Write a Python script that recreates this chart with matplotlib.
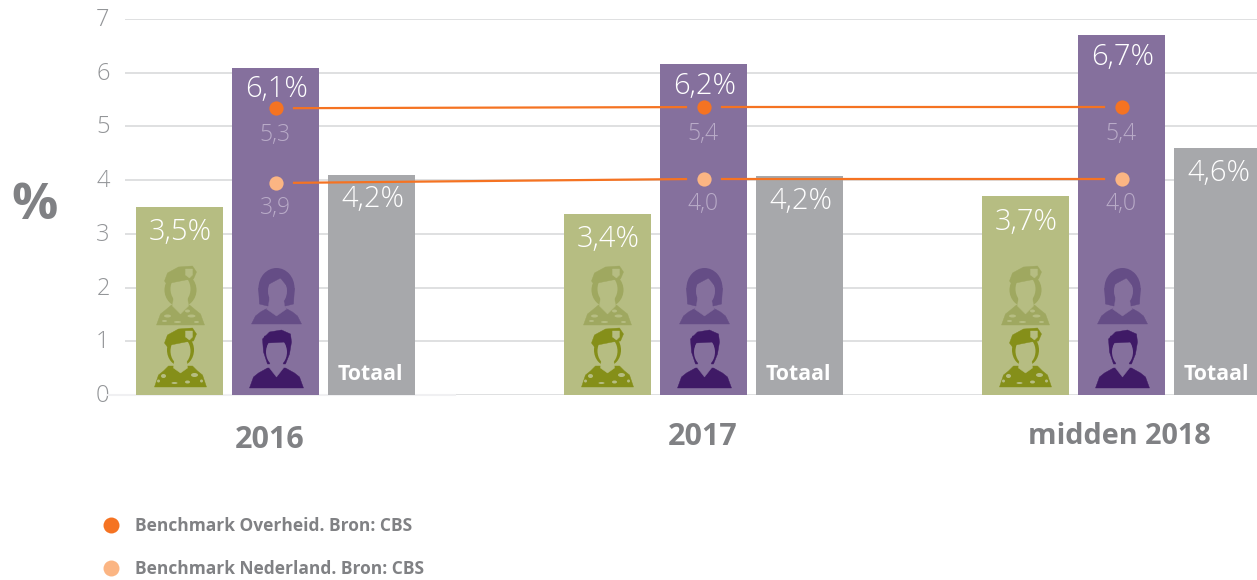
import matplotlib
matplotlib.use('Agg')
import matplotlib.pyplot as plt
from matplotlib.patches import Polygon, Ellipse
from matplotlib.lines import Line2D
from matplotlib.transforms import ScaledTranslation

W, H = 1257, 580
periods = ['2016', '2017', 'midden 2018']
militair = [3.5, 3.37, 3.7]
burger = [6.09, 6.16, 6.7]
totaal = [4.1, 4.08, 4.6]
lab_militair = ['3,5%', '3,4%', '3,7%']
lab_burger = ['6,1%', '6,2%', '6,7%']
lab_totaal = ['4,2%', '4,2%', '4,6%']
overheid = [5.34, 5.36, 5.36]
nederland = [3.95, 4.02, 4.02]
lab_overheid = ['5,3', '5,4', '5,4']
lab_nederland = ['3,9', '4,0', '4,0']
yticks = [0, 1, 2, 3, 4, 5, 6, 7]

# pixel layout
green_x = [136, 564, 982]
purple_x = [232, 660, 1078]
grey_x = [328, 756, 1174]
marker_x = [276, 704, 1122]
bar_w = 87
GREEN, PURPLE, GREY = '#b6bd82', '#85709d', '#a7a8ab'
ORANGE, PEACH = '#f57322', '#fbb583'
TXT = '#808184'
plt.rcParams['font.family'] = ['Open Sans', 'DejaVu Sans']

fig = plt.figure(figsize=(W/100, H/100), dpi=100)
ax = fig.add_axes([125/W, 1-395/H, 1-125/W, (395-19)/H])
ax.set_xlim(125, W)
ax.set_ylim(0, 7)
ax.patch.set_alpha(0)
for s in ax.spines.values():
    s.set_visible(False)
ax.set_xticks([])
ax.set_yticks(yticks)
ax.set_yticklabels([str(v) for v in yticks], fontsize=17, color='#939598', fontweight='light')
ax.tick_params(axis='y', length=0, pad=11)
shift = ScaledTranslation(0, 2/100, fig.dpi_scale_trans)
for lbl in ax.get_yticklabels():
    lbl.set_transform(lbl.get_transform() + shift)
ax.grid(axis='y', color='#d6d7d9', lw=1.1, zorder=0)
ax.set_axisbelow(True)
ax.plot([108, 455], [0, 0], color='#f0f0f2', lw=1.5, clip_on=False, zorder=1)

for i in range(3):
    ax.bar(green_x[i], militair[i], bar_w, align='edge', color=GREEN, zorder=2)
    ax.bar(purple_x[i], burger[i], bar_w, align='edge', color=PURPLE, zorder=2)
    ax.bar(grey_x[i], totaal[i], bar_w, align='edge', color=GREY, zorder=2)
    kw = dict(ha='center', va='top', color='white', fontsize=21, fontweight='light', zorder=5)
    ax.text(green_x[i]+bar_w/2 + 1, militair[i]-0.20, lab_militair[i], **kw)
    ax.text(purple_x[i]+bar_w/2 + 1, burger[i]-0.13, lab_burger[i], **kw)
    ax.text(grey_x[i]+bar_w/2 + 1, totaal[i]-0.19, lab_totaal[i], **kw)
    ax.text(grey_x[i]+bar_w/2 - 1, 0.39, 'Totaal', ha='center', va='center', color='white',
            fontsize=15.3, fontweight='bold', zorder=5)
    ax.text(marker_x[i]-1, overheid[i]-0.50, lab_overheid[i], ha='center', va='center',
            color='#b9abc8', fontsize=16.5, fontweight='light', zorder=5)
    ax.text(marker_x[i]-1, nederland[i]-0.46, lab_nederland[i], ha='center', va='center',
            color='#b9abc8', fontsize=16.5, fontweight='light', zorder=5)

# benchmark lines, broken around the markers
for vals, col in ((overheid, ORANGE), (nederland, ORANGE)):
    for i in range(2):
        ax.plot([marker_x[i]+18, marker_x[i+1]-18], [vals[i], vals[i+1]], color=col, lw=1.6, zorder=4)
ax.scatter(marker_x, overheid, s=105, color=ORANGE, zorder=6, linewidths=0)
ax.scatter(marker_x, nederland, s=105, color=PEACH, zorder=6, linewidths=0)

# overlay in pixel coordinates for the icons
ov = fig.add_axes([0, 0, 1, 1])
ov.set_xlim(0, W)
ov.set_ylim(H, 0)
ov.axis('off')
ov.patch.set_alpha(0)

def P(cx, top, pts, col, z):
    ov.add_patch(Polygon([(cx+x, top+y) for x, y in pts], closed=True, fc=col, ec=col, lw=0.3, zorder=z))

def E(cx, top, x, y, w, h, col, z, angle=0):
    ov.add_patch(Ellipse((cx+x, top+y), w, h, angle=angle, fc=col, ec='none', zorder=z))

def shoulders(cx, top, col, neckw=7, wide=25, y0=38, y1=59):
    P(cx, top, [(-neckw, y0), (-wide+9, y0+5), (-wide+4, y0+9), (-wide, y1), (wide, y1), (wide-4, y0+9),
                (wide-9, y0+5), (neckw, y0)], col, 3)

def woman(cx, top, col, bg):
    E(cx, top, 0, 20, 36, 40, col, 3)
    P(cx, top, [(-18, 20), (18, 20), (17, 36), (9, 38), (-9, 38), (-17, 36)], col, 3)
    shoulders(cx, top, col, y0=39, y1=56)
    P(cx, top, [(-7, 30), (7, 30), (8, 38), (10, 41), (0, 48), (-10, 41), (-8, 38)], bg, 4)
    E(cx, top, 1, 23, 19, 27, bg, 5)
    P(cx, top, [(-11, 18), (4, 10), (12, 20), (12, 6), (-9, 6)], col, 6)

def man(cx, top, col, bg):
    P(cx, top, [(-13, 22), (-14, 9), (-7, 2), (5, 0), (14, 4), (15, 12), (13, 24), (9, 34), (-9, 34)], col, 3)
    shoulders(cx, top, col, neckw=9, wide=27, y0=38, y1=58)
    P(cx, top, [(-6, 30), (6, 30), (7, 38), (0, 47), (-7, 38)], bg, 4)
    E(cx, top, 0, 22, 21, 28, bg, 5)
    P(cx, top, [(-11, 19), (-9, 13), (9, 12), (11, 19), (12, 6), (-12, 6)], col, 6)

def soldier(cx, top, col, bg, female):
    if female:
        E(cx, top, 0, 24, 32, 34, col, 3)
        shoulders(cx, top, col, neckw=9, wide=24, y0=39, y1=59)
        for x, y, w, h in [(-13, 50, 7, 3), (11, 50, 8, 3), (-3, 56, 7, 2), (-16, 55, 5, 2), (16, 56, 5, 2), (7, 45, 5, 3)]:
            E(cx, top, x, y, w, h, bg, 6)
        P(cx, top, [(-7, 32), (7, 32), (8, 40), (0, 48), (-8, 40)], bg, 4)
    else:
        E(cx, top, 0, 22, 27, 32, col, 3)
        shoulders(cx, top, col, neckw=12, wide=26, y0=38, y1=59)
        for x, y, w, h in [(-17, 48, 5, 4), (14, 47, 7, 4), (-6, 55, 6, 2), (7, 54, 5, 3), (-22, 53, 3, 3), (21, 53, 3, 3)]:
            E(cx, top, x, y, w, h, bg, 6)
        P(cx, top, [(-6, 30), (6, 30), (7, 40), (0, 45), (-7, 40)], bg, 4)
    E(cx, top, 0, 23, 20, 27, bg, 5)
    P(cx, top, [(-16, 15), (-13, 7), (-2, 1), (12, 0), (16, 6), (13, 13), (5, 14), (-10, 17), (-13, 19)], col, 6)
    P(cx, top, [(5, 3), (12, 3), (12, 9), (9, 12), (5, 9)], bg, 7)

for i in range(3):
    gx = green_x[i]+bar_w/2 + (1 if i == 0 else 0)
    px = purple_x[i]+bar_w/2 + 1
    soldier(gx, 266, '#9fa860', GREEN, True)
    soldier(gx, 328, '#858f19', GREEN, False)
    woman(px, 268, '#654d86', PURPLE)
    man(px, 330, '#3f1a66', PURPLE)

# labels
sizes = [22, 22, 20.8]
for x, y, s, fs in zip([270, 703, 1119], [440, 437, 437], periods, sizes):
    fig.text(x/W, 1-y/H, s, ha='center', va='center', fontsize=fs, fontweight='bold', color=TXT)
fig.text(35/W, 1-206/H, '%', ha='center', va='center', fontsize=37, fontweight='bold', color=TXT)

handles = [Line2D([], [], ls='', marker='o', ms=11.5, color=ORANGE, mew=0),
           Line2D([], [], ls='', marker='o', ms=11.5, color=PEACH, mew=0)]
fig.legend(handles, ['Benchmark Overheid. Bron: CBS', 'Benchmark Nederland. Bron: CBS'],
           loc='lower left', bbox_to_anchor=(97/W, 1-578/H), frameon=False, borderpad=0,
           labelcolor=TXT, prop={'size': 12.5, 'weight': 'bold'}, labelspacing=1.42,
           handletextpad=0.6, handlelength=1.6, borderaxespad=0)

fig.savefig('out.png', dpi=100)
